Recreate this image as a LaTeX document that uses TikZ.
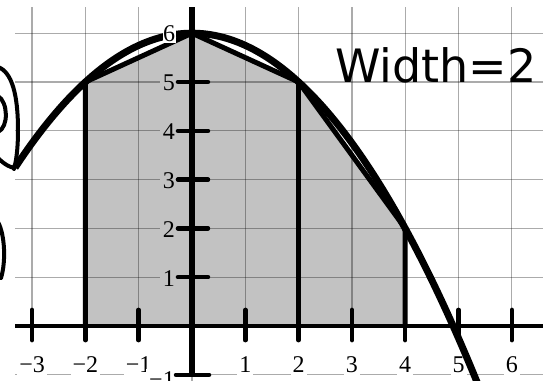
\documentclass[tikz,border=0pt]{standalone}
\usepackage{fontspec}
\setmainfont{Liberation Serif}
\newfontfamily\handfont{DejaVu Sans}
\definecolor{trapgray}{RGB}{194,194,194}
\begin{document}
\begin{tikzpicture}[x=53.3pt,y=48.8pt,
  gridline/.style={black,opacity=0.33,line width=1.3pt},
  axisline/.style={black,line width=4.5pt},
  yaxisline/.style={black,line width=6.5pt},
  tickmark/.style={black,line width=4.5pt,line cap=round},
  trapline/.style={black,line width=5pt,line join=round},
  curveline/.style={black,line width=7pt},
  handline/.style={black,line width=4pt,line cap=round,line join=round},
  numfont/.style={font=\fontsize{24}{24}\selectfont},
  xlab/.style={numfont,anchor=base,fill=white,inner xsep=2pt,inner ysep=0pt,text height=32pt,text depth=13pt},
  ylab/.style={numfont,anchor=base east,fill=trapgray,inner xsep=3pt,inner ysep=0pt,text height=19pt,text depth=3pt},
  toplab/.style={numfont,anchor=base east,fill=white,inner sep=0.6pt,text height=16pt,text depth=0pt},
  handtext/.style={font=\handfont\fontsize{46}{46}\selectfont,inner sep=0pt}
]
\useasboundingbox (-3.6023,-1.127) rectangle (6.7167,6.6803);
\clip (-3.6023,-1.127) rectangle (6.7167,6.6803);
% trapezoid vertices
\coordinate (p1) at (-2,0);
\coordinate (p2) at (-2,5);
\coordinate (p3) at (0,6);
\coordinate (p4) at (2,5);
\coordinate (p5) at (4,2);
\coordinate (p6) at (4,0);
\coordinate (q1) at (2,0);
\fill[trapgray] (p1) -- (p2) -- (p3) -- (p4) -- (p5) -- (p6) -- cycle;
% grid
\foreach \i in {-3,...,6} \draw[gridline] (\i,-1.2) -- (\i,6.537);
\foreach \j in {-1,...,6} \draw[gridline] (-3.32,\j) -- (6.59,\j);
% x labels
\foreach \i/\t/\n in {-3/{−3}/a,-2/{−2}/b,-1/{−1}/c,1/1/d,2/2/e,3/3/f,4/4/g,5/5/h,6/6/i}
  \node[xlab] (xl\n) at (\i,-0.943) {\t};
% y labels
\foreach \j in {1,...,5} \node[ylab] (yl\j) at (-0.263,{\j-0.184}) {\j};
\node[ylab,fill=white] (ylm) at (-0.263,-1.270) {−1};
% axes
\coordinate (xa0) at (-3.32,0);
\coordinate (xa1) at (6.59,0);
\coordinate (ya0) at (0,-1);
\coordinate (ya1) at (0,6.537);
\draw[axisline] (xa0) -- (xa1);
\draw[yaxisline] (ya0) -- (ya1);
\foreach \i in {-3,-2,-1,1,2,3,4,5,6} \draw[tickmark] (\i,0.33) -- (\i,-0.29);
\foreach \j in {1,...,5} \draw[tickmark] (-0.263,\j) -- (0.30,\j);
\draw[tickmark] (-0.30,-1) -- (0.32,-1);
% trapezoid edges
\draw[trapline] (p1) -- (p2) -- (p3) -- (p4) -- (p5) -- (p6);
\draw[trapline] (q1) -- (p4);
% curve
\draw[curveline] plot[domain=-3.32:5.6,samples=120,smooth] (\x,{6-(\x)^2/4});
% top label over the curve
\node[toplab] (yl6) at (-0.30,5.82) {6};
% handwriting (pixel coordinates)
\begin{scope}[shift={(-3.6023,6.6803)},x=1pt,y=-1pt]
  \draw[handline] (-2,67) .. controls (12,72) and (18,95) .. (18,130) .. controls (18,150) and (16,162) .. (14,169);
  \draw[handline] (-2,96) .. controls (8,102) and (9,127) .. (-2,132);
  \draw[handline] (-2,158) .. controls (5,165) and (10,167) .. (14,168);
  \draw[handline] (-2,222) .. controls (5,235) and (6,262) .. (1,278);
  \node[handtext] (width) at (436,65) {Width=2};
\end{scope}
\end{tikzpicture}
\end{document}
